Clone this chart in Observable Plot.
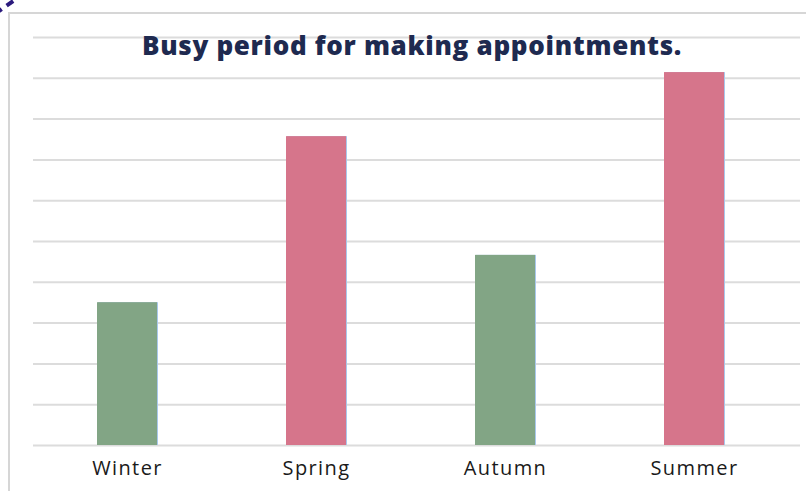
<!DOCTYPE html>
<html>
<head>
<meta charset="utf-8">
<script src="https://cdn.jsdelivr.net/npm/d3@7"></script>
<script src="https://cdn.jsdelivr.net/npm/@observablehq/plot@0.6"></script>
<style>
  html, body { margin: 0; padding: 0; background: #fff; }
  #wrap { position: relative; width: 806px; height: 491px; overflow: hidden; }
  #frame { position: absolute; left: 8px; top: 12px; right: -4px; bottom: -4px;
           border-top: 2px solid #d6d6d6; border-left: 2px solid #d6d6d6; }
  #corner { position: absolute; left: -6px; top: 12px; width: 36px; height: 0;
            border-top: 4px dashed #2b1a7d; transform: rotate(-35deg); transform-origin: left top; }
  #title { position: absolute; left: 0; width: 824px; top: 27px; text-align: center;
           font-family: "Open Sans", sans-serif; font-weight: 800; font-size: 26px; color: #1e2a50;
           letter-spacing: 0.7px; }
  #chart { position: absolute; left: 0; top: 0; }
  #chart svg g[aria-label="x-axis tick label"] text { font-size: 20px; letter-spacing: 1.4px; }
</style>
</head>
<body>
<div id="wrap">
  <div id="frame"></div>
  <div id="corner"></div>
  <div id="chart"></div>
  <div id="title">Busy period for making appointments.</div>
</div>
<script>
const seasons = ["Winter", "Spring", "Autumn", "Summer"];
const values = [3.5, 7.57, 4.66, 9.14];
const colors = ["#82a585", "#d6758b", "#82a585", "#d6758b"];
const gridTicks = [0, 1, 2, 3, 4, 5, 6, 7, 8, 9, 10];

const data = seasons.map((s, i) => ({season: s, value: values[i], color: colors[i]}));

const chart = Plot.plot({
  width: 806,
  height: 491,
  marginTop: 37,
  marginBottom: 46,
  marginLeft: 33,
  marginRight: 6,
  style: {background: "transparent", fontFamily: "'Open Sans', sans-serif", fontSize: "20px"},
  x: {domain: seasons, range: [33, 789], paddingInner: 0.68, paddingOuter: 0.34, label: null},
  y: {domain: [0, 10], axis: null},
  marks: [
    Plot.ruleY(gridTicks, {stroke: "#dcdcdc", strokeWidth: 2}),
    Plot.barY(data, {x: "season", y: "value", fill: "#a9c8ec", dx: 1}),
    Plot.barY(data, {x: "season", y: "value", fill: "color"}),
    Plot.axisX({tickSize: 0, tickPadding: 15, fontSize: 20, color: "#1a1a1a", label: null})
  ]
});
document.getElementById("chart").appendChild(chart);
</script>
</body>
</html>
